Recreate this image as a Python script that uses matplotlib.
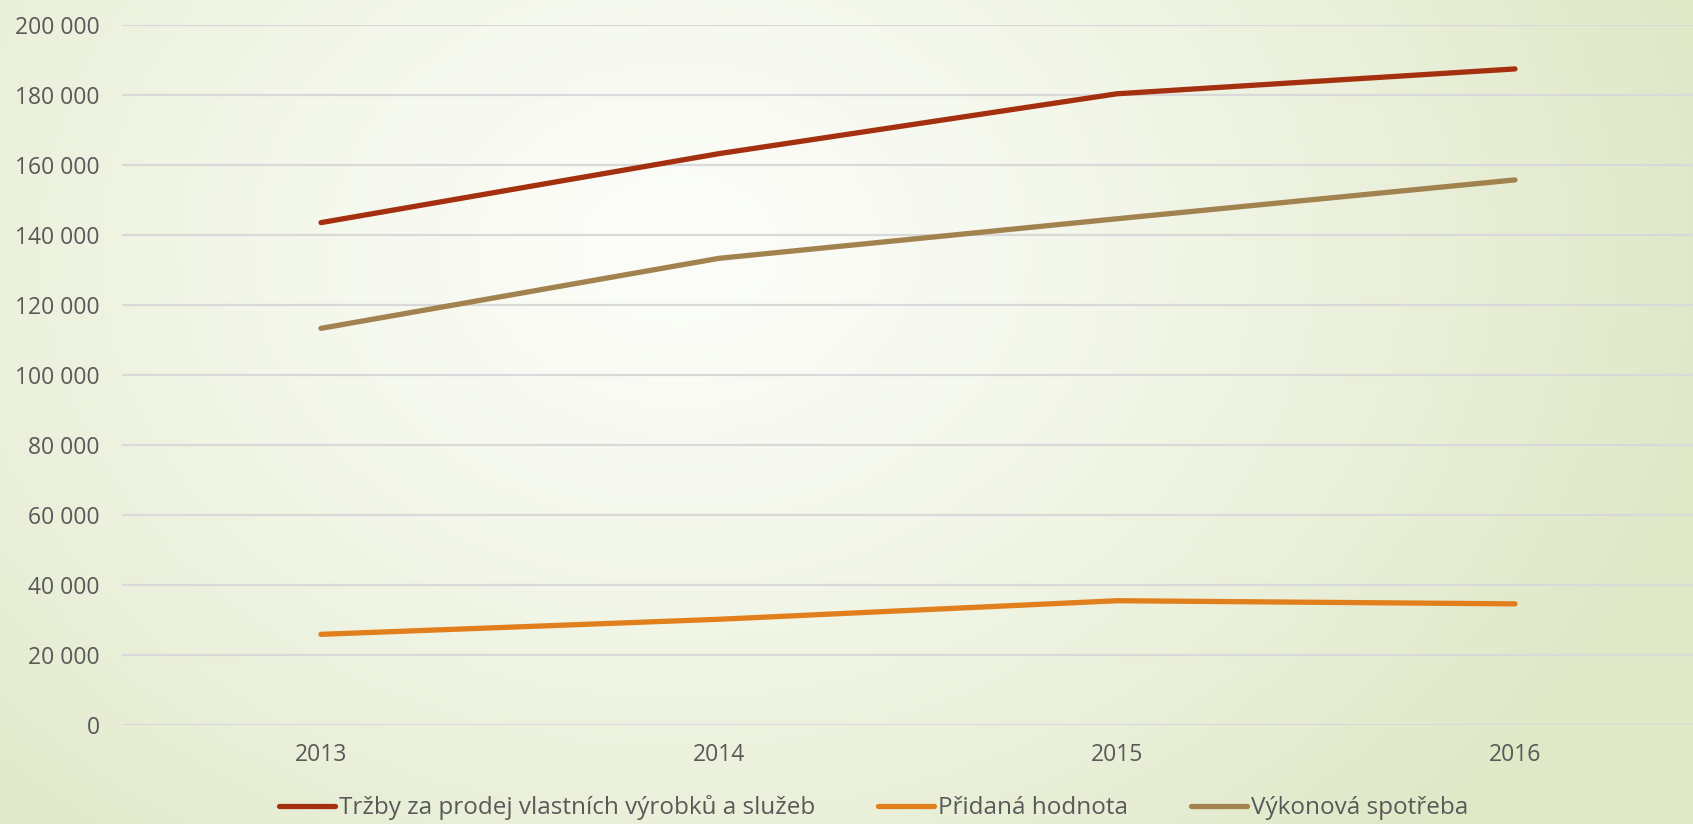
import numpy as np
import matplotlib
matplotlib.use("Agg")
import matplotlib.pyplot as plt
from matplotlib.ticker import FuncFormatter

years = ["2013", "2014", "2015", "2016"]
trzby = [143500, 163200, 180300, 187400]
pridana = [25900, 30200, 35500, 34600]
vykonova = [113300, 133300, 144600, 155700]

series_names = ["Tržby za prodej vlastních výrobků a služeb", "Přidaná hodnota", "Výkonová spotřeba"]
series_colors = ["#A5300F", "#E07F1C", "#A28350"]

plt.rcParams['font.family'] = ['Open Sans', 'DejaVu Sans']

fig = plt.figure(figsize=(16.93, 8.24), dpi=100)

# background gradient
bg = fig.add_axes([0, 0, 1, 1], zorder=-10)
bg.set_axis_off()
h, w = 200, 400
yy, xx = np.mgrid[0:h, 0:w]
cx, cy = 0.40 * w, 0.30 * h
d = np.sqrt(((xx - cx) / w) ** 2 + ((yy - cy) / (h * 1.6)) ** 2)
t = np.clip(d / 0.62, 0, 1) ** 1.3
c0 = np.array([252, 253, 249]) / 255.0
c1 = np.array([223, 232, 199]) / 255.0
img = c0[None, None, :] * (1 - t[..., None]) + c1[None, None, :] * t[..., None]
bg.imshow(img, aspect='auto', extent=[0, 1, 0, 1], origin='upper')
bg.set_xlim(0, 1); bg.set_ylim(0, 1)

ax = fig.add_axes([122 / 1693, 1 - 725 / 824, 1592 / 1693, (725 - 24.8) / 824])
ax.patch.set_alpha(0)
x = np.arange(len(years))
for vals, name, col in zip([trzby, pridana, vykonova], series_names, series_colors):
    ax.plot(x, vals, color=col, lw=3.8, solid_capstyle='round', label=name, zorder=3)

ax.set_xlim(-0.5, 3.5)
ax.set_ylim(0, 200000)
ax.set_yticks(np.arange(0, 200001, 20000))
ax.yaxis.set_major_formatter(FuncFormatter(lambda v, p: f"{int(v):,}".replace(",", " ")))
ax.set_xticks(x)
ax.set_xticklabels(years)
ax.grid(axis='y', color='#D9D9D9', lw=1.6)
ax.set_axisbelow(True)
for s in ax.spines.values():
    s.set_visible(False)
ax.tick_params(axis='both', length=0, labelsize=16.5, labelcolor='#595959')
ax.tick_params(axis='y', pad=16)
ax.tick_params(axis='x', pad=13)

fig.legend(loc='center', bbox_to_anchor=(0.516, 1 - 808 / 824), ncol=3, frameon=False,
           fontsize=17.5, labelcolor='#595959', handlelength=2.3, handletextpad=0.15,
           columnspacing=2.6)

fig.savefig("out.png", dpi=100)
